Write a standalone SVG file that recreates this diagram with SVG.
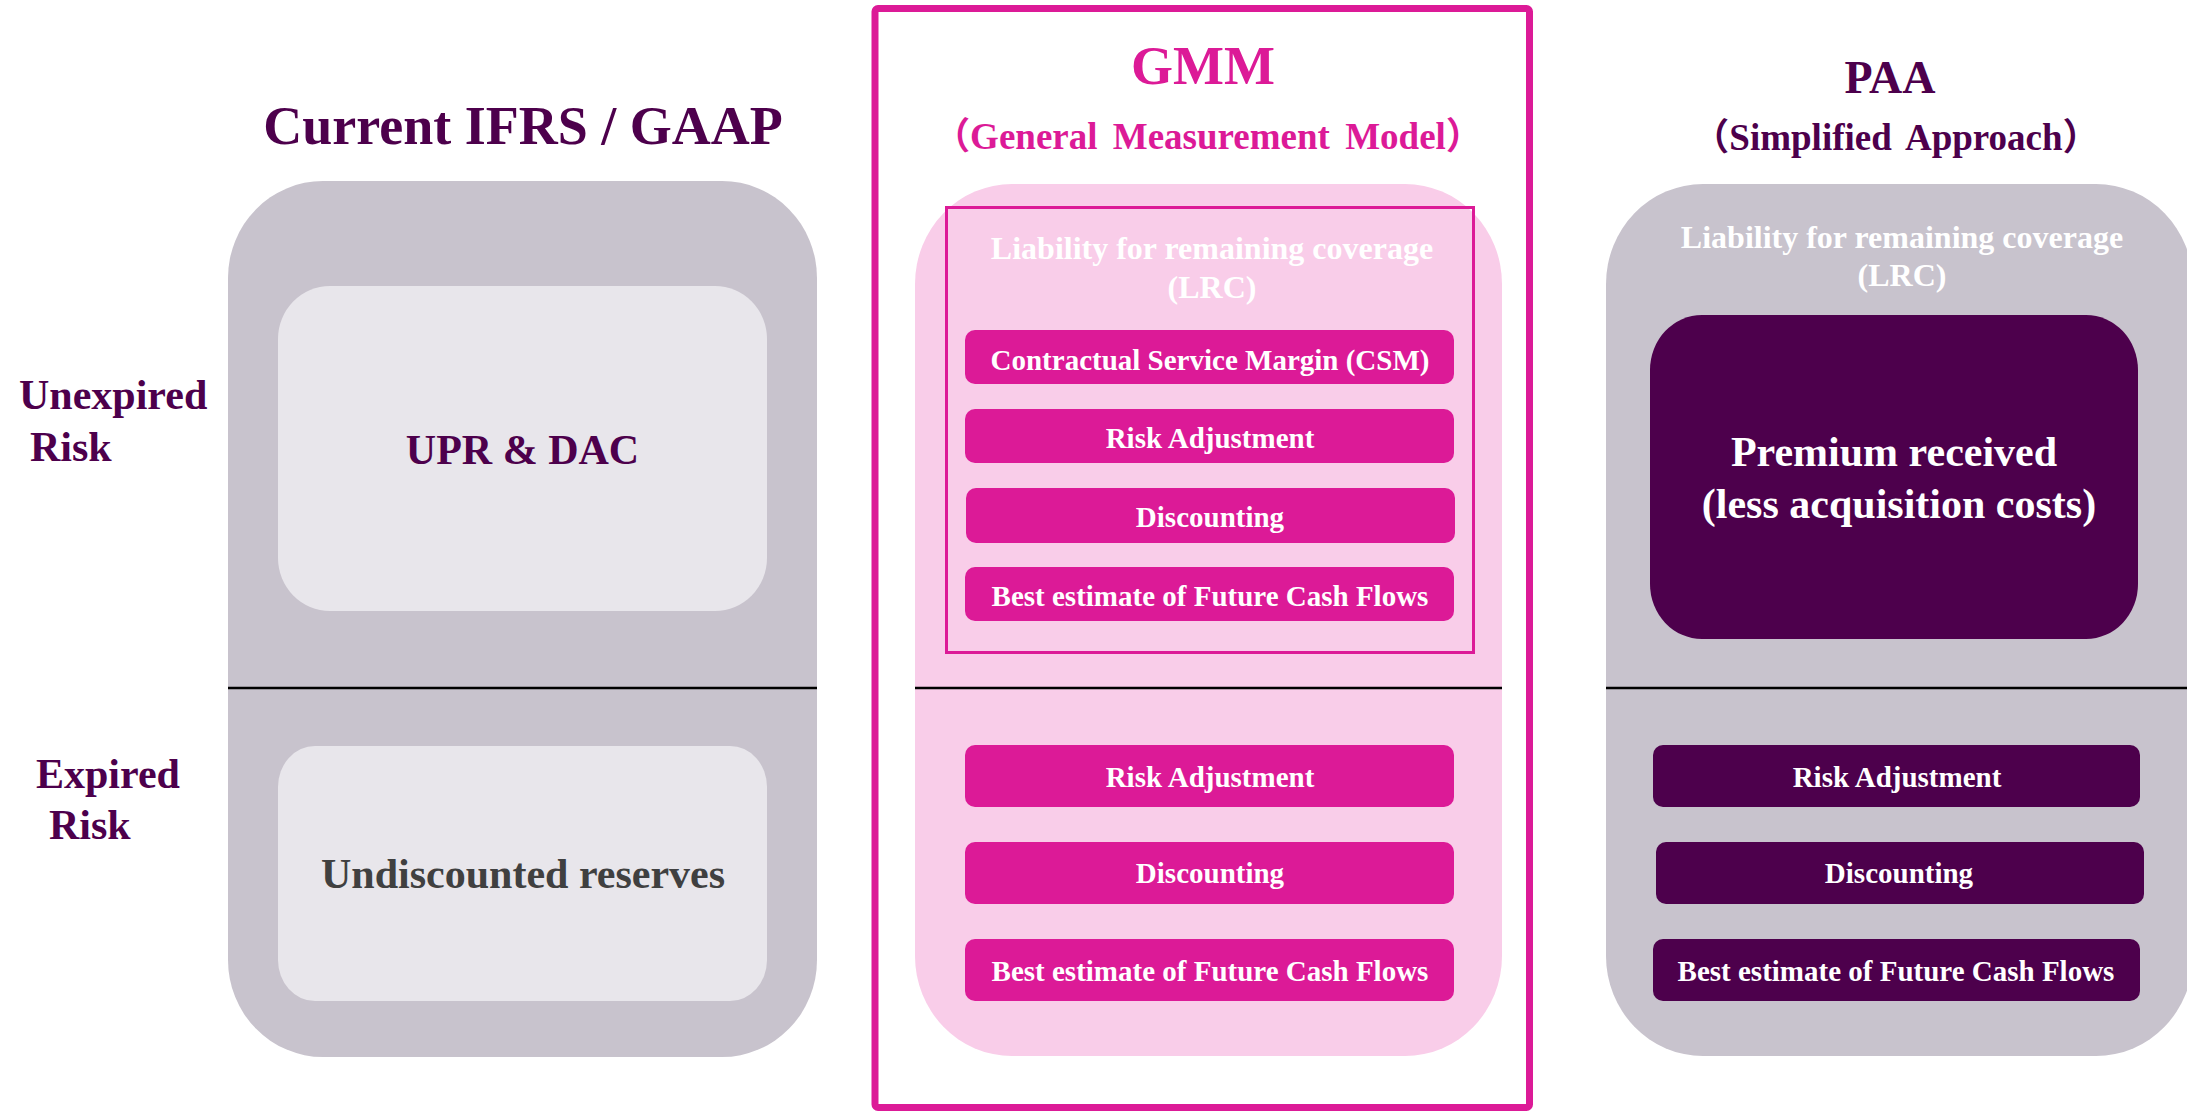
<svg xmlns="http://www.w3.org/2000/svg" width="2187" height="1111" viewBox="0 0 2187 1111">
  <style>
    text { font-family: 'Liberation Serif', 'Times New Roman', 'Noto Sans CJK SC', serif; font-weight: bold; }
    .c { text-anchor: middle; }
    .purple { fill: #4D004C; }
    .magenta { fill: #DC1A97; }
    .white { fill: #FFFFFF; }
    .grey-box { fill: #C8C3CD; }
    .light-box { fill: #E8E6EB; }
    .pink-box { fill: #F9CDE9; }
    .bar-m { fill: #DC1A97; }
    .bar-p { fill: #4D004C; }
    .divider { stroke: #000000; stroke-width: 2.5; }
    .t-head { font-size: 54px; }
    .t-sub { font-size: 37px; word-spacing: 6px; }
    .t-side { font-size: 42px; }
    .t-big { font-size: 42px; }
    .t-lrc { font-size: 32px; }
    .t-bar { font-size: 29px; }
  </style>

  <rect width="2187" height="1111" fill="#FFFFFF"/>

  <!-- row labels -->
  <g id="label-unexpired">
    <text class="purple t-side" x="19" y="409">Unexpired</text>
    <text class="purple t-side" x="30" y="461">Risk</text>
  </g>
  <g id="label-expired">
    <text class="purple t-side" x="36" y="788">Expired</text>
    <text class="purple t-side" x="49" y="839">Risk</text>
  </g>

  <!-- Current IFRS / GAAP column -->
  <g id="col-current">
    <text class="c purple t-head" x="523" y="144">Current IFRS / GAAP</text>
    <rect class="grey-box" x="228" y="181" width="589" height="876" rx="95" ry="97"/>
    <g id="current-upr">
      <rect class="light-box" x="278" y="286" width="489" height="325" rx="52" ry="53"/>
      <text class="c purple t-big" x="522.5" y="464">UPR &amp; DAC</text>
    </g>
    <g id="current-reserves">
      <rect class="light-box" x="278" y="746" width="489" height="255" rx="37" ry="41"/>
      <text class="c t-big" fill="#404040" x="523" y="888">Undiscounted reserves</text>
    </g>
  </g>

  <!-- GMM column -->
  <g id="col-gmm">
    <rect x="875" y="8.5" width="654.5" height="1099" rx="3" fill="none" stroke="#DC1A97" stroke-width="7"/>
    <text class="c magenta t-head" x="1203" y="84">GMM</text>
    <text class="c magenta t-sub" x="1208" y="149">（General Measurement Model）</text>
    <rect class="pink-box" x="915" y="184" width="587" height="872" rx="97" ry="100"/>
    <g id="gmm-lrc">
      <rect x="946.5" y="207.5" width="527" height="445" fill="none" stroke="#DC1A97" stroke-width="3"/>
      <text class="c white t-lrc" x="1212" y="259">Liability for remaining coverage</text>
      <text class="c white t-lrc" x="1212" y="298">(LRC)</text>
    </g>
    <g id="gmm-csm">
      <rect class="bar-m" x="965" y="330" width="489" height="54" rx="10"/>
      <text class="c white t-bar" x="1210" y="370">Contractual Service Margin (CSM)</text>
    </g>
    <g id="gmm-ra-1">
      <rect class="bar-m" x="965" y="409" width="489" height="54" rx="10"/>
      <text class="c white t-bar" x="1210" y="448">Risk Adjustment</text>
    </g>
    <g id="gmm-disc-1">
      <rect class="bar-m" x="966" y="488" width="489" height="55" rx="10"/>
      <text class="c white t-bar" x="1210" y="527">Discounting</text>
    </g>
    <g id="gmm-befcf-1">
      <rect class="bar-m" x="965" y="567" width="489" height="54" rx="10"/>
      <text class="c white t-bar" x="1210" y="606">Best estimate of Future Cash Flows</text>
    </g>
    <g id="gmm-ra-2">
      <rect class="bar-m" x="965" y="745" width="489" height="62" rx="10"/>
      <text class="c white t-bar" x="1210" y="787">Risk Adjustment</text>
    </g>
    <g id="gmm-disc-2">
      <rect class="bar-m" x="965" y="842" width="489" height="62" rx="10"/>
      <text class="c white t-bar" x="1210" y="883">Discounting</text>
    </g>
    <g id="gmm-befcf-2">
      <rect class="bar-m" x="965" y="939" width="489" height="62" rx="10"/>
      <text class="c white t-bar" x="1210" y="981">Best estimate of Future Cash Flows</text>
    </g>
  </g>

  <!-- PAA column -->
  <g id="col-paa">
    <text class="c purple" style="font-size:46px" x="1890" y="93">PAA</text>
    <text class="c purple t-sub" x="1896" y="150">（Simplified Approach）</text>
    <rect class="grey-box" x="1606" y="184" width="587" height="872" rx="97" ry="100"/>
    <text class="c white t-lrc" x="1902" y="248">Liability for remaining coverage</text>
    <text class="c white t-lrc" x="1902" y="286">(LRC)</text>
    <g id="paa-premium">
      <rect class="bar-p" x="1650" y="315" width="488" height="324" rx="52" ry="55"/>
      <text class="c white t-big" x="1894" y="466">Premium received</text>
      <text class="c white t-big" x="1899" y="518">(less acquisition costs)</text>
    </g>
    <g id="paa-ra">
      <rect class="bar-p" x="1653" y="745" width="487" height="62" rx="10"/>
      <text class="c white t-bar" x="1897" y="787">Risk Adjustment</text>
    </g>
    <g id="paa-disc">
      <rect class="bar-p" x="1656" y="842" width="488" height="62" rx="10"/>
      <text class="c white t-bar" x="1899" y="883">Discounting</text>
    </g>
    <g id="paa-befcf">
      <rect class="bar-p" x="1653" y="939" width="487" height="62" rx="10"/>
      <text class="c white t-bar" x="1896" y="981">Best estimate of Future Cash Flows</text>
    </g>
  </g>

  <!-- row dividers between unexpired and expired risk -->
  <g id="dividers">
    <line class="divider" x1="228" y1="688" x2="817" y2="688"/>
    <line class="divider" x1="915" y1="688" x2="1502" y2="688"/>
    <line class="divider" x1="1606" y1="688" x2="2187" y2="688"/>
  </g>
</svg>
